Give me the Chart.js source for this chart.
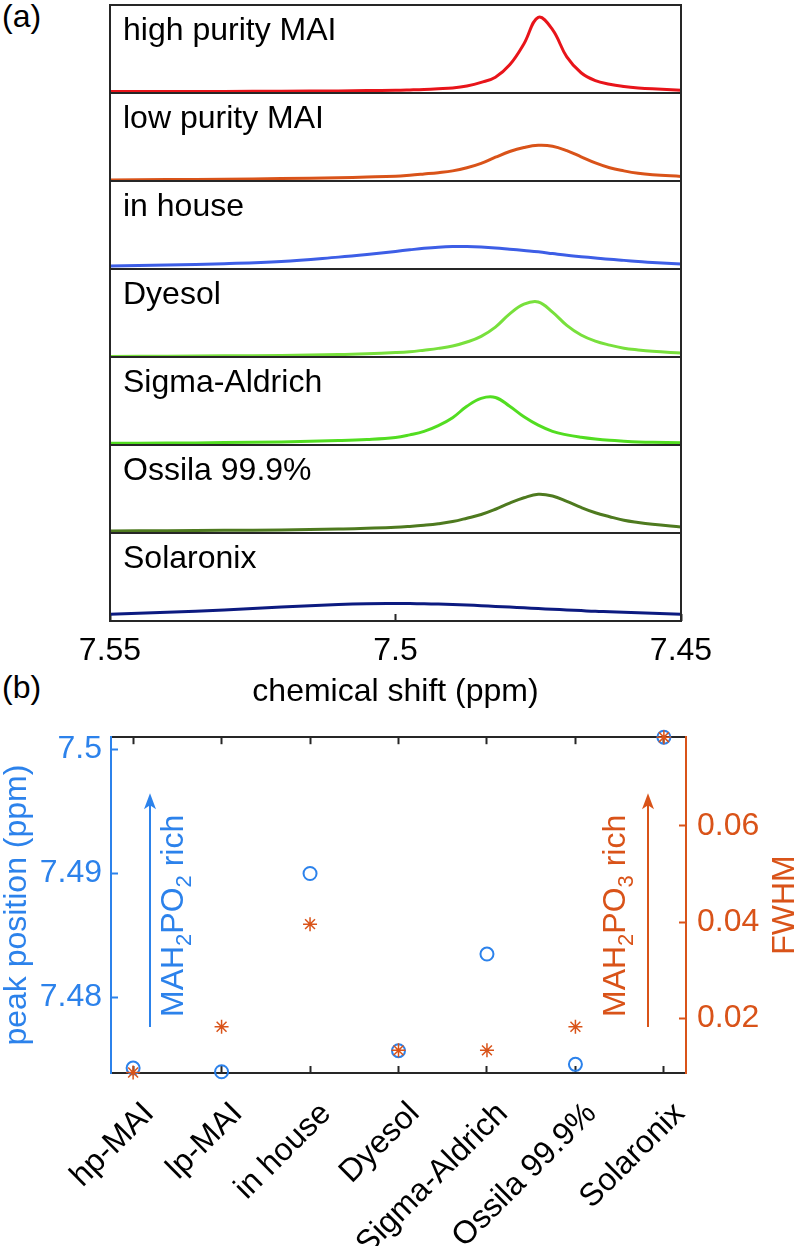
<!DOCTYPE html>
<html>
<head>
<meta charset="utf-8">
<script src="https://cdn.jsdelivr.net/npm/chart.js@4.4.0/dist/chart.umd.min.js"></script>
<style>
  body { margin: 0; background: #fff; width: 796px; height: 1246px; position: relative; overflow: hidden; font-family: "Liberation Sans", Arial, sans-serif; }
  canvas { position: absolute; left: 0; }
  .tag { position: absolute; left: 2px; font-size: 32px; line-height: 32px; color: #000; }
</style>
</head>
<body>
<div class="tag" style="top:0px">(a)</div>
<div class="tag" style="top:671px">(b)</div>
<div id="stack"></div>
<canvas id="chartB" width="796" height="546" style="top:700px"></canvas>
<script>
// (a) spectra (intensity as fraction of panel height)
const shift = [7.55, 7.54, 7.53, 7.52, 7.51, 7.505, 7.50, 7.4975, 7.495, 7.4925, 7.49, 7.4875, 7.485, 7.4825, 7.48, 7.4775, 7.475, 7.4725, 7.47, 7.4675, 7.465, 7.4625, 7.46, 7.4575, 7.455, 7.45];
const highPurity = [0.016, 0.017, 0.018, 0.02, 0.024, 0.027, 0.031, 0.035, 0.04, 0.048, 0.058, 0.08, 0.12, 0.18, 0.32, 0.56, 0.86, 0.72, 0.41, 0.23, 0.14, 0.10, 0.075, 0.058, 0.047, 0.032];
const lowPurity = [0.012, 0.016, 0.02, 0.027, 0.037, 0.045, 0.055, 0.066, 0.08, 0.095, 0.115, 0.15, 0.2, 0.27, 0.335, 0.38, 0.405, 0.395, 0.345, 0.275, 0.205, 0.15, 0.115, 0.088, 0.072, 0.052];
const inHouse = [0.034, 0.045, 0.06, 0.085, 0.135, 0.165, 0.2, 0.218, 0.235, 0.248, 0.255, 0.255, 0.25, 0.24, 0.225, 0.21, 0.195, 0.175, 0.155, 0.14, 0.125, 0.11, 0.098, 0.086, 0.075, 0.058];
const dyesol = [0.006, 0.009, 0.013, 0.018, 0.028, 0.037, 0.05, 0.06, 0.078, 0.098, 0.125, 0.17, 0.235, 0.34, 0.49, 0.60, 0.625, 0.51, 0.36, 0.25, 0.18, 0.135, 0.10, 0.08, 0.065, 0.045];
const sigmaAldrich = [0.02, 0.022, 0.027, 0.035, 0.05, 0.062, 0.085, 0.115, 0.155, 0.22, 0.31, 0.44, 0.53, 0.54, 0.44, 0.32, 0.225, 0.155, 0.115, 0.088, 0.068, 0.053, 0.043, 0.035, 0.03, 0.025];
const ossila = [0.023, 0.026, 0.03, 0.035, 0.045, 0.054, 0.065, 0.075, 0.088, 0.105, 0.13, 0.168, 0.21, 0.27, 0.34, 0.40, 0.44, 0.42, 0.36, 0.29, 0.23, 0.185, 0.145, 0.12, 0.10, 0.068];
const solaronix = [0.078, 0.099, 0.126, 0.158, 0.187, 0.196, 0.198, 0.198, 0.196, 0.192, 0.187, 0.181, 0.174, 0.166, 0.158, 0.15, 0.141, 0.134, 0.126, 0.118, 0.11, 0.105, 0.099, 0.094, 0.088, 0.078];
const sampleNames = ["high purity MAI", "low purity MAI", "in house", "Dyesol", "Sigma-Aldrich", "Ossila 99.9%", "Solaronix"];
const shiftTicks = [7.55, 7.5, 7.45];
const shiftTickLabels = ["7.55", "7.5", "7.45"];

// (b) peak position and FWHM per sample
const categories = ["hp-MAI", "lp-MAI", "in house", "Dyesol", "Sigma-Aldrich", "Ossila 99.9%", "Solaronix"];
const peakPos = [7.4743, 7.4740, 7.4900, 7.4757, 7.4835, 7.4746, 7.5010];
const fwhm = [0.0088, 0.0183, 0.0396, 0.0134, 0.0134, 0.0183, 0.0784];
const posTicks = [7.48, 7.49, 7.5];
const posTickLabels = ["7.48", "7.49", "7.5"];
const fwhmTicks = [0.02, 0.04, 0.06];
const fwhmTickLabels = ["0.02", "0.04", "0.06"];

const lineColors = ["#e8141a", "#d95319", "#3d5ee6", "#78e03c", "#52dd21", "#4e7a1f", "#0c1a80"];
const blue = "#2c82eb";
const orange = "#d95319";
const axisColor = "#262626";
const FONT = '"Liberation Sans", Arial, sans-serif';

Chart.defaults.font.family = FONT;

const boxPlugin = {
  id: "box",
  afterDatasetsDraw(chart, args, opts) {
    const { ctx, chartArea: a } = chart;
    ctx.save();
    ctx.strokeStyle = axisColor;
    ctx.lineWidth = 2;
    ctx.strokeRect(a.left, a.top, a.right - a.left, a.bottom - a.top);
    ctx.fillStyle = "#000";
    ctx.font = "32px " + FONT;
    ctx.textBaseline = "alphabetic";
    ctx.fillText(opts.label, a.left + 13, a.top + 35);
    ctx.restore();
  }
};

const series = [highPurity, lowPurity, inHouse, dyesol, sigmaAldrich, ossila, solaronix];
const stack = document.getElementById("stack");

series.forEach((vals, i) => {
  const last = i === series.length - 1;
  const cv = document.createElement("canvas");
  cv.width = 796;
  cv.height = last ? 189 : 92;
  cv.style.top = (3 + 88 * i) + "px";
  stack.appendChild(cv);

  new Chart(cv, {
    type: "line",
    data: {
      datasets: [{
        data: shift.map((x, k) => ({ x: x, y: vals[k] })),
        borderColor: lineColors[i],
        borderWidth: 3,
        pointRadius: 0,
        tension: 0.4,
        fill: false
      }]
    },
    options: {
      responsive: false,
      animation: false,
      events: [],
      layout: { padding: { left: 110, right: 115, top: 2, bottom: last ? 0 : 2 } },
      plugins: { legend: { display: false }, tooltip: { enabled: false }, box: { label: sampleNames[i] } },
      scales: {
        x: {
          type: "linear", min: 7.45, max: 7.55, reverse: true,
          display: last,
          afterBuildTicks: (s) => { s.ticks = shiftTicks.map((v) => ({ value: v })); },
          afterFit: (s) => { if (last) s.height = 99; },
          ticks: { font: { size: 32 }, color: "#000", padding: 18, maxRotation: 0, callback: (v, k) => shiftTickLabels[k] },
          grid: { drawOnChartArea: false, tickLength: -7, tickWidth: 2, tickColor: axisColor },
          border: { display: false },
          title: { display: true, text: "chemical shift (ppm)", font: { size: 32 }, color: "#000", padding: { top: 0, bottom: 9 } }
        },
        y: { display: false, min: 0, max: 1 }
      }
    },
    plugins: [boxPlugin]
  });
});

function drawUpText(ctx, parts, x, y, color) {
  // text reads bottom to top, baseline at x, starting at y
  ctx.save();
  ctx.translate(x, y);
  ctx.rotate(-Math.PI / 2);
  ctx.fillStyle = color;
  ctx.textBaseline = "alphabetic";
  ctx.textAlign = "left";
  let pos = 0;
  parts.forEach((p) => {
    ctx.font = (p[1] ? 22 : 32) + "px " + FONT;
    ctx.fillText(p[0], pos, p[1] ? 8 : 0);
    pos += ctx.measureText(p[0]).width;
  });
  ctx.restore();
}

function textWidth(ctx, s) {
  ctx.save();
  ctx.font = "32px " + FONT;
  const w = ctx.measureText(s).width;
  ctx.restore();
  return w;
}

function drawArrow(ctx, x, y0, y1, color) {
  ctx.save();
  ctx.strokeStyle = color;
  ctx.fillStyle = color;
  ctx.lineWidth = 2;
  ctx.beginPath();
  ctx.moveTo(x, y0);
  ctx.lineTo(x, y1 + 10);
  ctx.stroke();
  ctx.beginPath();
  ctx.moveTo(x, y1);
  ctx.lineTo(x - 6, y1 + 16);
  ctx.lineTo(x, y1 + 12);
  ctx.lineTo(x + 6, y1 + 16);
  ctx.closePath();
  ctx.fill();
  ctx.restore();
}

const notesPlugin = {
  id: "notes",
  afterDraw(chart) {
    const { ctx, chartArea: a } = chart;
    const mid = (a.top + a.bottom) / 2;
    const t1 = "peak position (ppm)";
    drawUpText(ctx, [[t1, 0]], 26, mid + textWidth(ctx, t1) / 2, blue);
    drawUpText(ctx, [["FWHM", 0]], 794, mid + textWidth(ctx, "FWHM") / 2, orange);

    drawArrow(ctx, a.left + 39, a.bottom - 46, a.top + 56, blue);
    drawUpText(ctx, [["MAH", 0], ["2", 1], ["PO", 0], ["2", 1], [" rich", 0]], a.left + 72, a.bottom - 56, blue);
    drawArrow(ctx, a.right - 38, a.bottom - 46, a.top + 56, orange);
    drawUpText(ctx, [["MAH", 0], ["2", 1], ["PO", 0], ["3", 1], [" rich", 0]], a.right - 61, a.bottom - 56, orange);
  }
};

const catTicks = (s) => { s.ticks = categories.map((c, k) => ({ value: k + 1 })); };

new Chart(document.getElementById("chartB"), {
  type: "scatter",
  data: {
    datasets: [
      {
        data: fwhm.map((v, k) => ({ x: k + 1, y: v })),
        yAxisID: "y1",
        pointStyle: "star",
        pointRadius: 7,
        borderColor: orange,
        backgroundColor: orange,
        borderWidth: 1.5,
        order: 0,
        clip: false
      },
      {
        data: peakPos.map((v, k) => ({ x: k + 1, y: v })),
        yAxisID: "y",
        pointStyle: "circle",
        pointRadius: 6.5,
        borderColor: blue,
        backgroundColor: "rgba(0,0,0,0)",
        borderWidth: 2,
        order: 1,
        clip: false
      }
    ]
  },
  options: {
    responsive: false,
    animation: false,
    events: [],
    layout: { padding: 0 },
    plugins: { legend: { display: false }, tooltip: { enabled: false } },
    scales: {
      x: {
        type: "linear", position: "bottom", min: 0.75, max: 7.25,
        afterBuildTicks: catTicks,
        afterFit: (s) => { s.height = 173; },
        ticks: {
          font: { size: 32 }, color: "#000", padding: 29, labelOffset: 16,
          minRotation: 45, maxRotation: 45, autoSkip: false,
          callback: (v, k) => categories[k]
        },
        grid: { drawOnChartArea: false, tickLength: -7, tickWidth: 2, tickColor: axisColor },
        border: { color: axisColor, width: 2 }
      },
      x2: {
        type: "linear", position: "top", min: 0.75, max: 7.25,
        afterBuildTicks: catTicks,
        afterFit: (s) => { s.height = 36; },
        ticks: { display: false },
        grid: { drawOnChartArea: false, tickLength: -7, tickWidth: 2, tickColor: axisColor },
        border: { color: axisColor, width: 2 }
      },
      y: {
        type: "linear", position: "left", min: 7.4739, max: 7.501,
        afterBuildTicks: (s) => { s.ticks = posTicks.map((v) => ({ value: v })); },
        afterFit: (s) => { s.width = 111; },
        ticks: { font: { size: 32 }, color: blue, padding: 16, callback: (v, k) => posTickLabels[k] },
        grid: { drawOnChartArea: false, tickLength: -7, tickWidth: 2, tickColor: blue },
        border: { color: blue, width: 2 }
      },
      y1: {
        type: "linear", position: "right", min: 0.0087, max: 0.0784,
        afterBuildTicks: (s) => { s.ticks = fwhmTicks.map((v) => ({ value: v })); },
        afterFit: (s) => { s.width = 110; },
        ticks: { font: { size: 32 }, color: orange, padding: 18, callback: (v, k) => fwhmTickLabels[k] },
        grid: { drawOnChartArea: false, tickLength: -7, tickWidth: 2, tickColor: orange },
        border: { color: orange, width: 2 }
      }
    }
  },
  plugins: [notesPlugin]
});
</script>
</body>
</html>
